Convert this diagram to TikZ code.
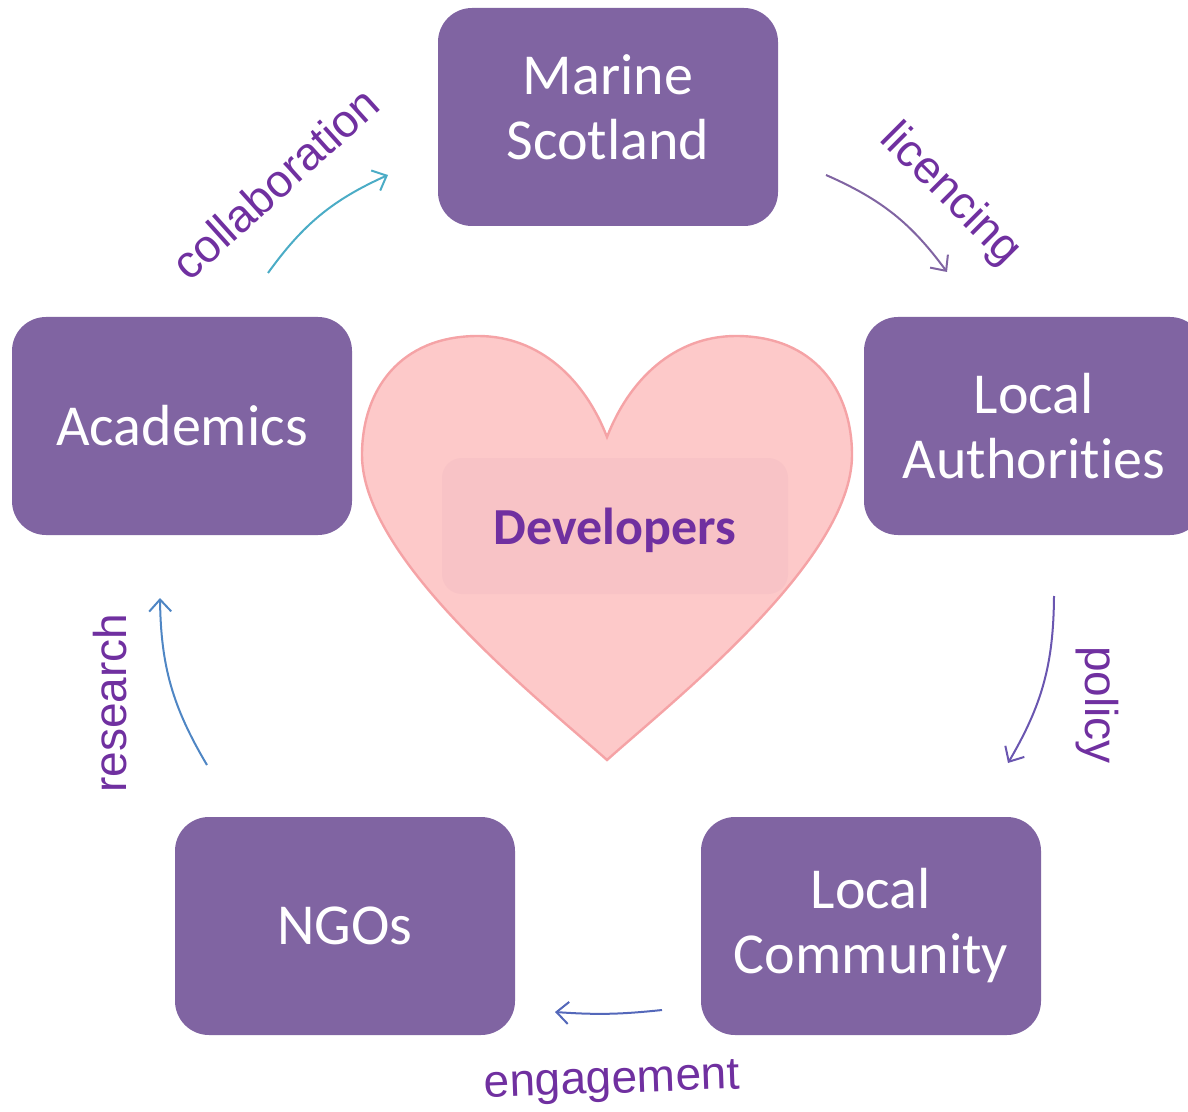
\documentclass[tikz,border=0pt]{standalone}
\usepackage{fontspec}
\setmainfont{Carlito}[Ligatures={NoCommon,NoContextual,NoRequired}]
\newfontfamily\labelfont{Liberation Sans}
\usetikzlibrary{arrows.meta}
\definecolor{party}{HTML}{8064A2}
\definecolor{verb}{HTML}{7030A0}
\definecolor{heartfill}{HTML}{FDC9C9}
\definecolor{heartline}{HTML}{F5A3A6}
\definecolor{core}{HTML}{F8C3C6}
\definecolor{collab}{HTML}{4BACC6}
\definecolor{licence}{HTML}{8064A2}
\definecolor{pol}{HTML}{6A56B0}
\definecolor{engage}{HTML}{5468BA}
\definecolor{resrch}{HTML}{4F86C4}

\begin{document}
\begin{tikzpicture}[x=0.5pt,y=-0.5pt,
    partybox/.style={fill=party,rounded corners=17pt,minimum width=170pt,
      minimum height=109pt,align=center,text=white,
      font=\fontsize{29}{32.5}\selectfont},
    flow/.style={line width=1pt,-{Straight Barb[length=6pt,width=11pt]},bend left=15},
    verblabel/.style={text=verb,font=\labelfont\fontsize{23}{27}\selectfont}]
        \clip (0,0) rectangle (1188,1112);

        % heart
        \filldraw[fill=heartfill,draw=heartline,line width=1.2pt]
        (607,437) .. controls (585,380) and (540,336) .. (478,336)
        .. controls (400,336) and (362,390) .. (362,455)
        .. controls (362,560) and (540,700) .. (607,760)
        .. controls (674,700) and (852,560) .. (852,455)
        .. controls (852,390) and (814,336) .. (736,336)
        .. controls (674,336) and (629,380) .. (607,437) -- cycle;

        \path
        (615,526) node[fill=core,rounded corners=10pt,minimum width=173pt,
          minimum height=68pt](devbox) {}
        (615,530) node[text=verb,font=\bfseries\fontsize{26}{30}\selectfont](dev) {Developers}
        (608,117) node[partybox,text depth=10pt](ms) {Marine\\Scotland}
        (1034,426) node[partybox](la) {Local\\Authorit\kern0pt ies}
        (871,926) node[partybox](lc) {Local\\Community}
        (345,926) node[partybox](ngo) {NGOs}
        (182,426) node[partybox](acad) {Academics}
        ;

        \path
        (275,183) node[verblabel,rotate=42](collabtxt) {collaboration}
        (950,195) node[verblabel,rotate=-45](lictxt) {licencing}
        (1097,705) node[verblabel,rotate=-90](poltxt) {policy}
        (612,1083) node[verblabel,rotate=2](engtxt) {engagement}
        (110,703) node[verblabel,rotate=90](restxt) {research}
        ;

        \coordinate (c1) at (268,273);
        \coordinate (c2) at (388,175);
        \coordinate (l1) at (826,175);
        \coordinate (l2) at (947,272);
        \coordinate (p1) at (1054,596);
        \coordinate (p2) at (1008,763);
        \coordinate (e1) at (662,1010);
        \coordinate (e2) at (555,1012);
        \coordinate (r1) at (207,765);
        \coordinate (r2) at (160,598);

        \draw[flow,collab] (c1) to (c2);
        \draw[flow,licence] (l1) to (l2);
        \draw[flow,pol] (p1) to (p2);
        \draw[flow,engage,bend left=5] (e1) to (e2);
        \draw[flow,resrch] (r1) to (r2);
      \end{tikzpicture}
\end{document}
